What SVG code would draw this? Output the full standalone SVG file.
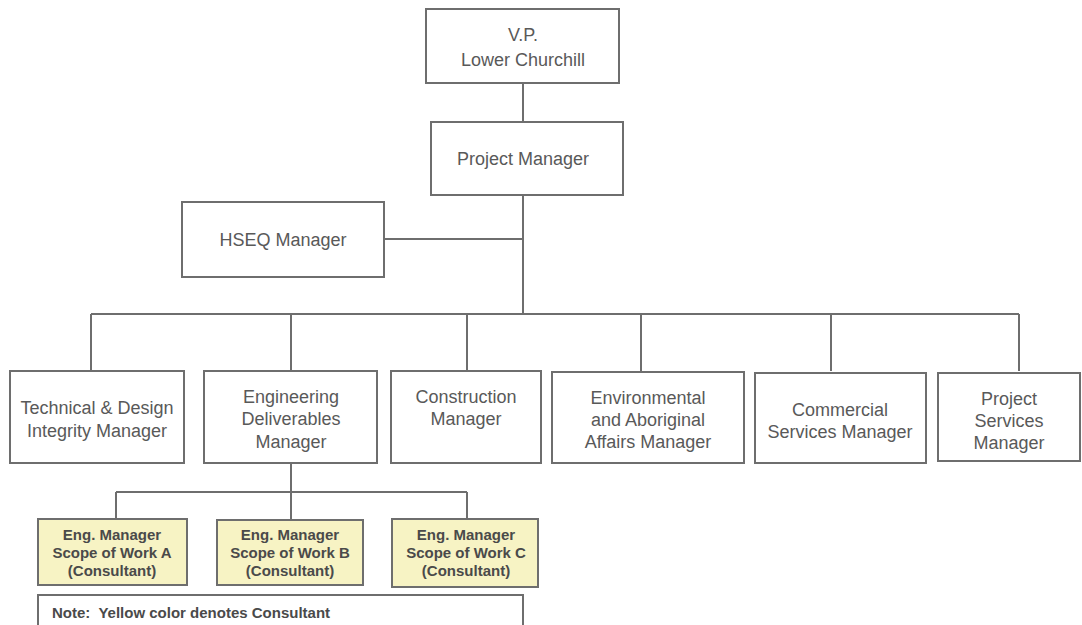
<svg xmlns="http://www.w3.org/2000/svg" width="1082" height="625" viewBox="0 0 1082 625">
<style>
.box{fill:#fff;stroke:#6e6e6e;stroke-width:2}
.yb{fill:#f7f3c4;stroke:#6e6e6e;stroke-width:2}
.t{font-family:"Liberation Sans",Arial,sans-serif;font-size:18px;fill:#595959;text-anchor:middle}
.b{font-family:"Liberation Sans",Arial,sans-serif;font-size:15px;font-weight:bold;fill:#4a4a4a;text-anchor:middle}
.c{fill:none;stroke:#6e6e6e;stroke-width:2}
</style>
<rect width="1082" height="625" fill="#fff"/>
<g id="connectors">
<path class="c" d="M523,83V122M523,195V314M384,239H523M91,314H1019M91,314V371M291,314V371M467,314V371M641,314V371M831,314V371M1019,314V371"/>
<path class="c" d="M291,463V492M116,492H467M116,492V519M291,492V520M467,492V519"/>
</g>
<g id="vp"><rect class="box" x="426" y="9" width="193" height="74"/>
<text class="t" x="523" y="41">V.P.</text><text class="t" x="523" y="66">Lower Churchill</text></g>
<g id="pm"><rect class="box" x="431" y="122" width="192" height="73"/>
<text class="t" x="523" y="165">Project Manager</text></g>
<g id="hseq"><rect class="box" x="182" y="202" width="202" height="75"/>
<text class="t" x="283" y="246">HSEQ Manager</text></g>
<g id="tech"><rect class="box" x="10" y="371" width="174" height="92"/>
<text class="t" x="97" y="414">Technical &amp; Design</text><text class="t" x="97" y="437">Integrity Manager</text></g>
<g id="eng"><rect class="box" x="204" y="371" width="173" height="92"/>
<text class="t" x="291" y="403">Engineering</text><text class="t" x="291" y="425">Deliverables</text><text class="t" x="291" y="448">Manager</text></g>
<g id="cons"><rect class="box" x="391" y="371" width="150" height="92"/>
<text class="t" x="466" y="403">Construction</text><text class="t" x="466" y="425">Manager</text></g>
<g id="env"><rect class="box" x="552" y="372" width="192" height="91"/>
<text class="t" x="648" y="404">Environmental</text><text class="t" x="648" y="426">and Aboriginal</text><text class="t" x="648" y="448">Affairs Manager</text></g>
<g id="comm"><rect class="box" x="755" y="373" width="171" height="90"/>
<text class="t" x="840" y="416">Commercial</text><text class="t" x="840" y="438">Services Manager</text></g>
<g id="psm"><rect class="box" x="938" y="373" width="142" height="88"/>
<text class="t" x="1009" y="405">Project</text><text class="t" x="1009" y="427">Services</text><text class="t" x="1009" y="449">Manager</text></g>
<g id="engA"><rect class="yb" x="38" y="519" width="149" height="66"/>
<text class="b" x="112" y="540">Eng. Manager</text><text class="b" x="112" y="558">Scope of Work A</text><text class="b" x="112" y="576">(Consultant)</text></g>
<g id="engB"><rect class="yb" x="217" y="520" width="146" height="65"/>
<text class="b" x="290" y="540">Eng. Manager</text><text class="b" x="290" y="558">Scope of Work B</text><text class="b" x="290" y="576">(Consultant)</text></g>
<g id="engC"><rect class="yb" x="392" y="519" width="146" height="68"/>
<text class="b" x="466" y="540">Eng. Manager</text><text class="b" x="466" y="558">Scope of Work C</text><text class="b" x="466" y="576">(Consultant)</text></g>
<g id="note"><rect class="box" x="38" y="595" width="485" height="40"/>
<text class="b" x="52" y="618" style="text-anchor:start;white-space:pre" xml:space="preserve">Note:  Yellow color denotes Consultant</text></g>
</svg>
